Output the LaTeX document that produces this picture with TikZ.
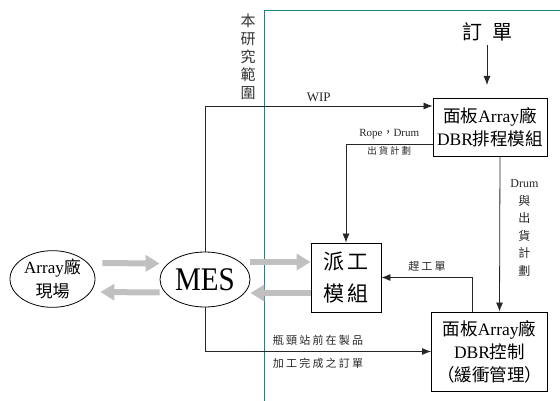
\documentclass[tikz,border=0pt]{standalone}
\usepackage{fontspec}
\setmainfont{Liberation Serif}
\newfontfamily\cjk{Noto Sans CJK TC}
\newfontfamily\cjkw[LetterSpace=20]{Noto Sans CJK TC}
\newcommand{\zh}[1]{{\cjk #1}}
\usetikzlibrary{arrows.meta, shapes.geometric}
\definecolor{scopeteal}{RGB}{20,135,135}
\definecolor{fatgray}{RGB}{192,192,192}

\begin{document}
\begin{tikzpicture}[x=1pt, y=-1pt,
    box/.style={draw, line width=0.9pt, inner sep=0pt, align=center, font=\fontsize{17.5}{23}\selectfont},
    oval/.style={draw, ellipse, line width=0.8pt, inner sep=0pt, align=center},
    flow/.style={-{Latex[length=9pt, width=7pt]}, line width=0.8pt, black!85},
    fat/.style={-{Triangle[length=14pt, width=16pt]}, line width=6pt, fatgray},
    border/.style={line width=1pt, scopeteal},
    note/.style={font=\cjkw\fontsize{11}{13}\selectfont, inner sep=1pt}]
    \useasboundingbox (0,0) rectangle (560,401);

    \draw[border] (264,401) -- (264,11) -- (560,11);
    \node[align=center, text=black!80, font=\cjk\fontsize{15}{18}\selectfont] (scope) at (248,57) {本\\研\\究\\範\\圍};

    \node[font=\cjk\fontsize{20}{20}\selectfont] (order) at (487,32) {訂\hspace{0.5em}單};
    \coordinate (orderin) at (487,85);

    \node[box, minimum width=114pt, minimum height=58pt] (dbr) at (490,127) {\zh{面板}Array\zh{廠}\\DBR\zh{排程模組}};
    \node[box, minimum width=70pt, minimum height=69pt, font=\cjk\fontsize{21}{32}\selectfont] (dispatch) at (346,277.5) {派\,工\\模\,組};
    \node[box, minimum width=116pt, minimum height=79pt] (ctrl) at (489.5,351.5) {\zh{面板}Array\zh{廠}\\DBR\zh{控制}\\\zh{（緩衝管理）}};

    \node[oval, minimum width=85pt, minimum height=52pt, font=\fontsize{17}{24}\selectfont] (field) at (52.5,279) {Array\zh{廠}\\\zh{現場}};
    \node[oval, minimum width=90pt, minimum height=55pt] (mes) at (205,279.5) {\scalebox{0.88}[1]{\fontsize{33}{33}\selectfont MES}};

    % gray flows
    \draw[fat, shorten <=7pt] ([yshift=16pt]field.east) -- ([yshift=16pt]mes.west);
    \draw[fat, shorten >=5pt] ([yshift=-13pt]mes.west) -- ([yshift=-13pt]field.east);
    \draw[fat] ([yshift=17.5pt]mes.east) -- ([yshift=15.5pt]dispatch.west);
    \draw[fat] ([yshift=-15.5pt]dispatch.west) -- ([yshift=-13.5pt]mes.east);

    \draw[flow] (order.south) -- (orderin);
    \draw[flow] (mes.north) |- ([yshift=21pt]dbr.west)
        node[pos=0.75, above=1pt, font=\fontsize{13}{13}\selectfont] (wip) {WIP};
    \draw[flow] ([yshift=-17pt]dbr.west) -| (dispatch.north)
        node[pos=0.25, above=1pt, font=\fontsize{11}{11}\selectfont] (rope) {Rope\zh{，}Drum}
        node[pos=0.25, below=1pt, note, font=\cjkw\fontsize{9.5}{11}\selectfont] (ship) {出貨計劃};
    \draw[flow] ([xshift=10pt]dbr.south) -- ([xshift=10pt]ctrl.north)
        node[midway, right=7pt, yshift=6pt, align=center, font=\fontsize{12}{17.5}\selectfont] (drum) {Drum\\\zh{與}\\\zh{出}\\\zh{貨}\\\zh{計}\\\zh{劃}};
    \draw[flow] ([xshift=-17pt]ctrl.north) |- (dispatch.east)
        node[pos=0.75, above=5pt, note] (rush) {趕工單};
    \draw[flow] (mes.south) |- (ctrl.west)
        node[pos=0.75, above=5pt, note] (wipq) {瓶頸站前在製品}
        node[pos=0.75, below=5pt, note] (done) {加工完成之訂單};
\end{tikzpicture}
\end{document}
